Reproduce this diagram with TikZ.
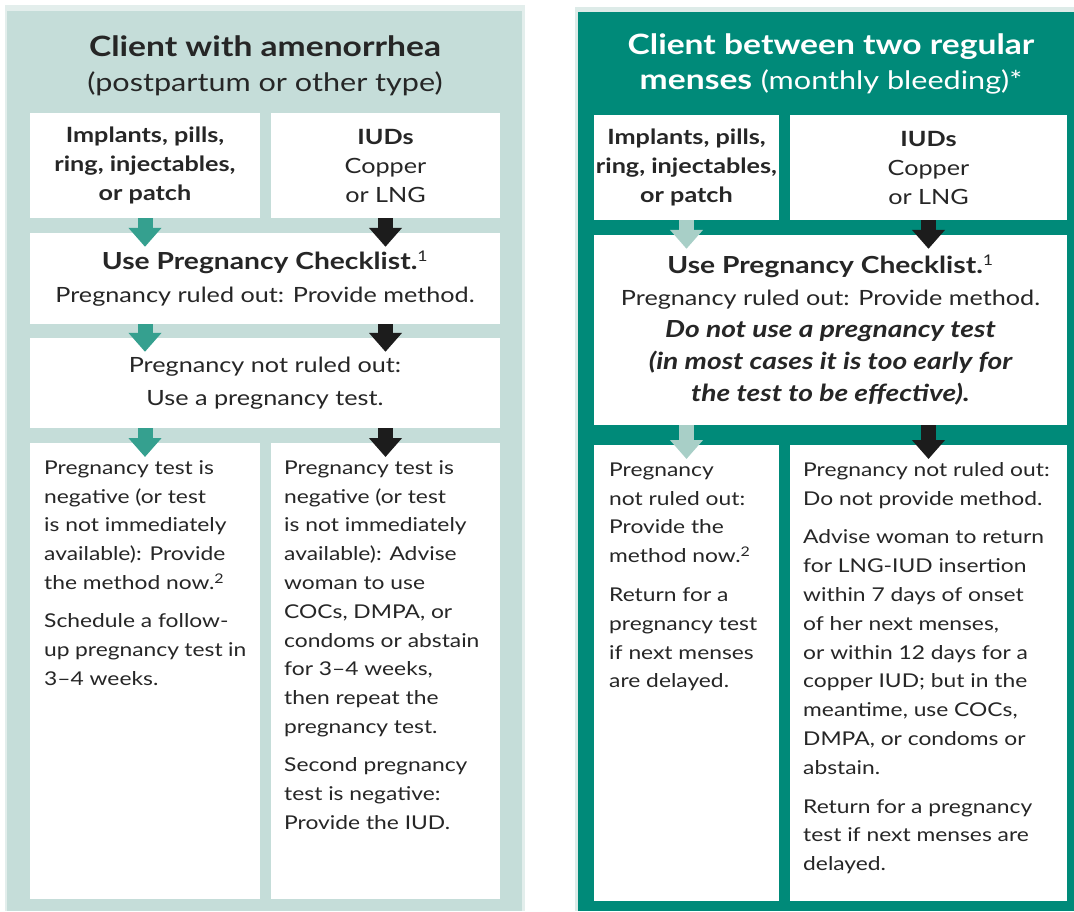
\documentclass[tikz,border=0pt]{standalone}
\usepackage{fontspec}
\setmainfont{Lato}[FakeStretch=1.2]
\usetikzlibrary{arrows.meta}

\definecolor{panelgrey}{HTML}{C5DDD9}
\definecolor{rimgrey}{HTML}{E3EEEC}
\definecolor{panelteal}{HTML}{008A79}
\definecolor{rimteal}{HTML}{DDEBE8}
\definecolor{arrowteal}{HTML}{35A08F}
\definecolor{arrowpale}{HTML}{A8CFC7}
\definecolor{arrowblack}{HTML}{1C1C1C}
\definecolor{inkgrey}{HTML}{262626}

% text block of the tall boxes, top aligned
\newcommand{\lowtext}[2]{\parbox[t][456pt][t]{#1}{\rule{0pt}{31pt}#2}}
% sizes for the mixed lines
\newcommand{\headsub}{\fontsize{25.5}{35}\selectfont}
\newcommand{\chkbold}{\fontsize{23.5}{32}\selectfont\bfseries}

\begin{document}
\begin{tikzpicture}[x=1pt, y=-1pt]

    % --- Styles ---
    \tikzset{
        % white boxes
        box/.style={
            fill=white,
            inner sep=0pt,
            align=center,
            text=inkgrey
        },
        topbox/.style={
            box,
            minimum height=105pt,
            font=\fontsize{21}{29}\selectfont
        },
        checkbox/.style={
            box,
            font=\fontsize{21}{33}\selectfont
        },
        lowbox/.style={
            box,
            anchor=north west,
            align=left,
            inner xsep=14pt,
            font=\fontsize{19}{28.8}\selectfont
        },
        % headings on the panels
        heading/.style={
            align=center,
            font=\fontsize{28}{35}\selectfont
        },
        % block arrows
        flow/.style={
            line width=15pt,
            -{Triangle[length=19pt, width=32pt]},
            shorten >=-14pt
        },
        flowL/.style={flow, draw=arrowteal},
        flowR/.style={flow, draw=arrowpale},
        flowK/.style={flow, draw=arrowblack}
    }

    \useasboundingbox (0,0) rectangle (1074,911);

    % --- 1. Panels ---
    \fill[rimgrey] (5,5) rectangle (525,911);
    \fill[panelgrey] (7,11) rectangle (522,911);
    \fill[rimteal] (575,7) rectangle (1074,911);
    \fill[panelteal] (578,12) rectangle (1074,911);

    % --- 2. Left panel: amenorrhea ---
    \node[heading, text=inkgrey] (ttlL) at (265,66)
        {\textbf{Client with amenorrhea}\\{\headsub(postpartum or other type)}};

    \node[topbox, minimum width=230pt] (impL) at (145,165.5)
        {\textbf{Implants, pills,}\\\textbf{ring, injectables,}\\\textbf{or patch}};
    \node[topbox, minimum width=229pt] (iudL) at (385.5,165.5)
        {\textbf{IUDs}\\Copper\\or LNG};

    \node[checkbox, minimum width=470pt, minimum height=91pt] (checkL) at (265,278.5)
        {{\chkbold Use Pregnancy Checklist.}\textsuperscript{1}\\Pregnancy ruled out: Provide method.};
    \node[checkbox, minimum width=470pt, minimum height=90pt] (testL) at (265,383)
        {Pregnancy not ruled out:\\Use a pregnancy test.};

    \node[lowbox] (negL) at (30,443) {\lowtext{202pt}{%
        Pregnancy test is\\negative (or test\\is not immediately\\available): Provide\\%
        the method now.\textsuperscript{2}\\[9.5pt]%
        Schedule a follow-\\up pregnancy test in\\3--4 weeks.}};
    \node[lowbox, inner xsep=13pt] (negiudL) at (271,443) {\lowtext{203pt}{%
        Pregnancy test is\\negative (or test\\is not immediately\\available): Advise\\%
        woman to use\\COCs, DMPA, or\\condoms or abstain\\for 3--4 weeks,\\%
        then repeat the\\pregnancy test.\\[9.5pt]%
        Second pregnancy\\test is negative:\\Provide the IUD.}};

    % --- 3. Right panel: between two menses ---
    \node[heading, text=white] (ttlR) at (831,64)
        {\textbf{Client between two regular}\\\textbf{menses} {\headsub(monthly bleeding)*}};

    \node[topbox, minimum width=185pt] (impR) at (686.5,167.5)
        {\textbf{Implants, pills,}\\\textbf{ring, injectables,}\\\textbf{or patch}};
    \node[topbox, minimum width=277pt] (iudR) at (928.5,167.5)
        {\textbf{IUDs}\\Copper\\or LNG};

    \node[checkbox, minimum width=473pt, minimum height=190pt,
          font=\fontsize{21}{32}\selectfont] (checkR) at (830.5,330)
        {{\chkbold Use Pregnancy Checklist.}\textsuperscript{1}\\Pregnancy ruled out: Provide method.\\%
         {\chkbold\itshape Do not use a pregnancy test}\\%
         {\chkbold\itshape (in most cases it is too early for}\\%
         {\chkbold\itshape the test to be effective).}};

    \node[lowbox, inner xsep=15pt] (notoutR) at (594,445) {\lowtext{155pt}{%
        Pregnancy\\not ruled out:\\Provide the\\method now.\textsuperscript{2}\\[10pt]%
        Return for a\\pregnancy test\\if next menses\\are delayed.}};
    \node[lowbox, inner xsep=13pt] (notoutiudR) at (790,445) {\lowtext{251pt}{%
        Pregnancy not ruled out:\\Do not provide method.\\[10pt]%
        Advise woman to return\\for LNG-IUD insertion\\within 7 days of onset\\%
        of her next menses,\\or within 12 days for a\\copper IUD; but in the\\%
        meantime, use COCs,\\DMPA, or condoms or\\abstain.\\[10pt]%
        Return for a pregnancy\\test if next menses are\\delayed.}};

    % --- 4. Arrows ---
    \draw[flowL] (impL.south) -- (impL.south |- checkL.north);
    \draw[flowL] (impL.south |- checkL.south) -- (impL.south |- testL.north);
    \draw[flowL] (impL.south |- testL.south) -- (impL.south |- negL.north);

    \draw[flowK] (iudL.south) -- (iudL.south |- checkL.north);
    \draw[flowK] (iudL.south |- checkL.south) -- (iudL.south |- testL.north);
    \draw[flowK] (iudL.south |- testL.south) -- (iudL.south |- negiudL.north);

    \draw[flowR] (impR.south) -- (impR.south |- checkR.north);
    \draw[flowR] (impR.south |- checkR.south) -- (impR.south |- notoutR.north);

    \draw[flowK] (iudR.south) -- (iudR.south |- checkR.north);
    \draw[flowK] (iudR.south |- checkR.south) -- (iudR.south |- notoutiudR.north);

\end{tikzpicture}
\end{document}
